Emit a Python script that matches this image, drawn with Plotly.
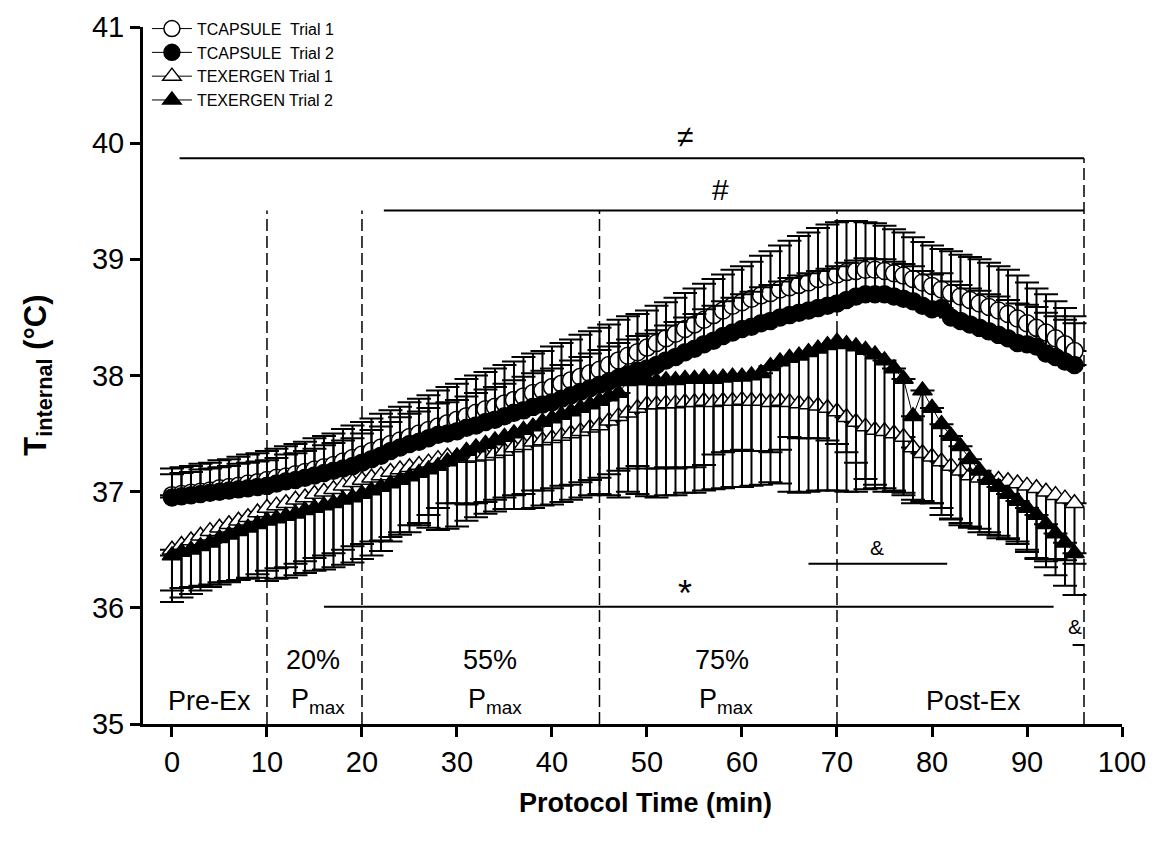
import plotly.graph_objects as go

# ---------------- data ----------------
TIME_MIN = list(range(0, 96))

CAP_T1 = [36.97, 36.98, 36.99, 37.00, 37.01, 37.03, 37.04, 37.05, 37.07, 37.08,
          37.10, 37.12, 37.13, 37.15, 37.17, 37.19, 37.21, 37.23, 37.26, 37.29,
          37.32, 37.35, 37.38, 37.41, 37.44, 37.47, 37.50, 37.53, 37.56, 37.59,
          37.62, 37.65, 37.68, 37.71, 37.73, 37.76, 37.79, 37.82, 37.85, 37.87,
          37.90, 37.93, 37.96, 37.99, 38.02, 38.05, 38.09, 38.13, 38.17, 38.20,
          38.24, 38.28, 38.32, 38.36, 38.40, 38.44, 38.48, 38.52, 38.56, 38.60,
          38.63, 38.66, 38.69, 38.71, 38.74, 38.76, 38.78, 38.80, 38.83, 38.85,
          38.87, 38.89, 38.90, 38.91, 38.91, 38.90, 38.88, 38.86, 38.83, 38.80,
          38.77, 38.74, 38.71, 38.68, 38.65, 38.62, 38.59, 38.56, 38.53, 38.49,
          38.45, 38.41, 38.37, 38.32, 38.27, 38.21]
CAP_T1_SD = [0.23, 0.23, 0.23, 0.24, 0.24, 0.24, 0.24, 0.25, 0.25, 0.25,
             0.25, 0.25, 0.26, 0.26, 0.26, 0.27, 0.27, 0.27, 0.28, 0.28,
             0.28, 0.28, 0.29, 0.29, 0.29, 0.30, 0.30, 0.30, 0.31, 0.31,
             0.31, 0.32, 0.32, 0.32, 0.33, 0.33, 0.33, 0.34, 0.34, 0.34,
             0.35, 0.35, 0.35, 0.36, 0.36, 0.36, 0.35, 0.35, 0.34, 0.33,
             0.32, 0.32, 0.31, 0.31, 0.31, 0.31, 0.31, 0.31, 0.31, 0.31,
             0.31, 0.32, 0.34, 0.36, 0.38, 0.40, 0.42, 0.43, 0.44, 0.45,
             0.45, 0.44, 0.43, 0.41, 0.40, 0.39, 0.38, 0.37, 0.36, 0.35,
             0.35, 0.35, 0.36, 0.36, 0.37, 0.38, 0.38, 0.38, 0.38, 0.37,
             0.35, 0.34, 0.33, 0.32, 0.31, 0.30]

CAP_T2 = [36.95, 36.96, 36.97, 36.98, 36.99, 37.00, 37.01, 37.02, 37.03, 37.04,
          37.05, 37.07, 37.09, 37.10, 37.12, 37.14, 37.16, 37.18, 37.20, 37.22,
          37.25, 37.28, 37.31, 37.35, 37.38, 37.41, 37.43, 37.46, 37.49, 37.50,
          37.52, 37.55, 37.57, 37.60, 37.62, 37.65, 37.68, 37.70, 37.73, 37.75,
          37.77, 37.80, 37.83, 37.86, 37.89, 37.92, 37.95, 37.98, 38.01, 38.04,
          38.06, 38.09, 38.13, 38.16, 38.20, 38.23, 38.27, 38.30, 38.34, 38.37,
          38.40, 38.42, 38.45, 38.47, 38.50, 38.52, 38.54, 38.56, 38.58, 38.60,
          38.62, 38.65, 38.68, 38.70, 38.70, 38.70, 38.68, 38.66, 38.64, 38.60,
          38.57, 38.58, 38.50, 38.47, 38.44, 38.41, 38.38, 38.35, 38.32, 38.28,
          38.27, 38.25, 38.19, 38.16, 38.12, 38.09]
CAP_T2_SD = [0.20, 0.20, 0.20, 0.21, 0.21, 0.21, 0.21, 0.22, 0.22, 0.22,
             0.22, 0.22, 0.23, 0.23, 0.23, 0.23, 0.24, 0.24, 0.24, 0.24,
             0.25, 0.25, 0.25, 0.25, 0.26, 0.26, 0.26, 0.26, 0.27, 0.27,
             0.27, 0.27, 0.28, 0.28, 0.28, 0.28, 0.28, 0.29, 0.29, 0.29,
             0.29, 0.29, 0.30, 0.30, 0.30, 0.30, 0.30, 0.30, 0.30, 0.30,
             0.30, 0.30, 0.30, 0.30, 0.30, 0.30, 0.30, 0.30, 0.30, 0.30,
             0.30, 0.30, 0.31, 0.31, 0.31, 0.32, 0.32, 0.32, 0.32, 0.32,
             0.32, 0.32, 0.31, 0.31, 0.30, 0.30, 0.30, 0.30, 0.30, 0.30,
             0.30, 0.30, 0.31, 0.31, 0.31, 0.32, 0.32, 0.33, 0.33, 0.34,
             0.34, 0.34, 0.35, 0.35, 0.36, 0.36]

EXE_T1 = [36.50, 36.54, 36.58, 36.62, 36.66, 36.69, 36.72, 36.75, 36.78, 36.82,
          36.86, 36.88, 36.90, 36.93, 36.95, 36.98, 37.00, 37.02, 37.05, 37.08,
          37.10, 37.12, 37.14, 37.17, 37.19, 37.21, 37.23, 37.25, 37.28, 37.30,
          37.30, 37.29, 37.30, 37.31, 37.33, 37.35, 37.38, 37.40, 37.43, 37.44,
          37.46, 37.48, 37.50, 37.52, 37.55, 37.57, 37.61, 37.65, 37.68, 37.72,
          37.75, 37.75, 37.76, 37.76, 37.77, 37.77, 37.78, 37.77, 37.78, 37.78,
          37.79, 37.78, 37.78, 37.77, 37.78, 37.77, 37.76, 37.75, 37.74, 37.72,
          37.69, 37.64, 37.60, 37.56, 37.53, 37.52, 37.50, 37.47, 37.38, 37.33,
          37.30, 37.26, 37.22, 37.18, 37.14, 37.12, 37.11, 37.10, 37.09, 37.07,
          37.05, 37.03, 37.00, 36.97, 36.94, 36.90]
EXE_T1_SD = [0.45, 0.45, 0.46, 0.47, 0.48, 0.49, 0.50, 0.51, 0.52, 0.53,
             0.54, 0.54, 0.55, 0.55, 0.55, 0.55, 0.55, 0.55, 0.55, 0.55,
             0.55, 0.55, 0.56, 0.56, 0.56, 0.56, 0.50, 0.45, 0.42, 0.40,
             0.40, 0.40, 0.40, 0.40, 0.40, 0.40, 0.41, 0.42, 0.42, 0.43,
             0.43, 0.43, 0.44, 0.44, 0.45, 0.45, 0.46, 0.47, 0.48, 0.50,
             0.55, 0.55, 0.55, 0.56, 0.56, 0.56, 0.55, 0.45, 0.44, 0.43,
             0.43, 0.43, 0.43, 0.43, 0.42, 0.30, 0.30, 0.29, 0.28, 0.28,
             0.28, 0.30, 0.35, 0.45, 0.50, 0.52, 0.50, 0.50, 0.45, 0.42,
             0.40, 0.40, 0.45, 0.45, 0.45, 0.47, 0.48, 0.50, 0.50, 0.50,
             0.55, 0.60, 0.60, 0.55, 0.53, 0.52]

EXE_T2 = [36.45, 36.48, 36.50, 36.53, 36.56, 36.60, 36.63, 36.66, 36.69, 36.72,
          36.75, 36.77, 36.79, 36.81, 36.84, 36.86, 36.88, 36.90, 36.93, 36.95,
          36.98, 37.01, 37.04, 37.07, 37.10, 37.13, 37.16, 37.19, 37.22, 37.26,
          37.30, 37.35, 37.38, 37.41, 37.44, 37.47, 37.50, 37.53, 37.56, 37.60,
          37.63, 37.66, 37.69, 37.72, 37.75, 37.78, 37.82, 37.85, 37.95, 37.96,
          37.96, 37.95, 37.96, 37.96, 37.97, 37.97, 37.98, 37.97, 37.98, 37.99,
          37.99, 38.00, 38.02, 38.08, 38.12, 38.15, 38.17, 38.20, 38.23, 38.26,
          38.29, 38.27, 38.25, 38.22, 38.18, 38.13, 38.06, 37.97, 37.65, 37.87,
          37.72, 37.58, 37.48, 37.39, 37.28, 37.18, 37.10, 37.04, 36.98, 36.92,
          36.86, 36.80, 36.72, 36.64, 36.56, 36.47]
EXE_T2_SD = [0.30, 0.31, 0.32, 0.34, 0.36, 0.38, 0.40, 0.42, 0.44, 0.46,
             0.52, 0.52, 0.53, 0.53, 0.54, 0.54, 0.55, 0.55, 0.56, 0.56,
             0.56, 0.56, 0.55, 0.50, 0.45, 0.42, 0.45, 0.50, 0.55, 0.58,
             0.60, 0.60, 0.60, 0.60, 0.61, 0.62, 0.65, 0.68, 0.70, 0.72,
             0.74, 0.75, 0.76, 0.77, 0.78, 0.80, 0.85, 0.90, 0.95, 0.98,
             1.00, 1.00, 0.99, 0.99, 0.98, 0.98, 0.97, 0.95, 0.95, 0.95,
             0.95, 0.95, 0.96, 1.00, 1.05, 1.15, 1.18, 1.20, 1.22, 1.25,
             1.28, 1.27, 1.25, 1.20, 1.12, 1.10, 1.05, 0.98, 0.75, 0.95,
             0.82, 0.78, 0.72, 0.68, 0.58, 0.50, 0.45, 0.42, 0.38, 0.37,
             0.38, 0.38, 0.37, 0.36, 0.37, 0.36]

SERIES_NAMES = ["TCAPSULE  Trial 1", "TCAPSULE  Trial 2", "TEXERGEN Trial 1", "TEXERGEN Trial 2"]
PHASE_BOUNDARIES = [10, 20, 45, 70, 96]
X_TICKS = [0, 10, 20, 30, 40, 50, 60, 70, 80, 90, 100]
Y_TICKS = [35, 36, 37, 38, 39, 40, 41]

# ---------------- figure ----------------
FONT = "Liberation Sans, Arial, sans-serif"
zeros = [0] * len(TIME_MIN)

fig = go.Figure()

def add_series(name, y, sd, symbol, fill, up, size):
    if up:
        err = dict(type="data", symmetric=False, array=sd, arrayminus=zeros,
                   color="black", thickness=2, width=12)
    else:
        err = dict(type="data", symmetric=False, array=zeros, arrayminus=sd,
                   color="black", thickness=2, width=12)
    fig.add_trace(go.Scatter(
        x=TIME_MIN, y=y, name=name, mode="lines+markers",
        line=dict(color="black", width=1),
        marker=dict(symbol=symbol, size=size, color=fill,
                    line=dict(color="black", width=1.5)),
        error_y=err,
    ))

add_series(SERIES_NAMES[0], CAP_T1, CAP_T1_SD, "circle", "white", True, 17)
add_series(SERIES_NAMES[1], CAP_T2, CAP_T2_SD, "circle", "black", True, 17)
add_series(SERIES_NAMES[2], EXE_T1, EXE_T1_SD, "triangle-up", "white", False, 17)
add_series(SERIES_NAMES[3], EXE_T2, EXE_T2_SD, "triangle-up", "black", False, 17)

# phase boundary dashed lines
for b in PHASE_BOUNDARIES:
    top = 39.87 if b == 96 else 39.42
    fig.add_shape(type="line", xref="x", yref="y", x0=b, x1=b, y0=35, y1=top,
                  line=dict(color="black", width=1.5, dash="12px,5px"), layer="below")

# significance bars
bars = [(0.8, 96, 39.87), (22.3, 96, 39.42), (16, 92.8, 36.01), (67, 81.6, 36.38), (94.8, 96, 35.68)]
for x0, x1, yv in bars:
    fig.add_shape(type="line", xref="x", yref="y", x0=x0, x1=x1, y0=yv, y1=yv,
                  line=dict(color="black", width=2))

def note(x, y, text, size):
    fig.add_annotation(x=x, y=y, xref="x", yref="y", text=text, showarrow=False,
                       font=dict(family=FONT, size=size, color="black"))

note(54, 40.06, "≠", 30)
note(57.7, 39.6, "#", 30)
note(54, 36.12, "*", 36)
note(74.2, 36.52, "&", 21)
note(95, 35.84, "&", 21)

# phase labels
note(4, 35.2, "Pre-Ex", 27)
note(14.8, 35.55, "20%", 27)
note(15.4, 35.2, "P<sub>max</sub>", 27)
note(33.5, 35.55, "55%", 27)
note(34, 35.2, "P<sub>max</sub>", 27)
note(57.9, 35.55, "75%", 27)
note(58.3, 35.2, "P<sub>max</sub>", 27)
note(84.4, 35.2, "Post-Ex", 27)

# axis titles
fig.add_annotation(x=-0.108, y=0.5, xref="paper", yref="paper", textangle=-90,
                   xanchor="center", yanchor="middle",
                   text="<b>T<sub>internal</sub> (°C)</b>", showarrow=False,
                   font=dict(family=FONT, size=31, color="black"))
fig.add_annotation(x=0.513, y=-0.113, xref="paper", yref="paper",
                   xanchor="center", yanchor="middle",
                   text="<b>Protocol Time (min)</b>", showarrow=False,
                   font=dict(family=FONT, size=27, color="black"))

axis_common = dict(showline=True, linecolor="black", linewidth=3, ticks="outside",
                   ticklen=10, tickwidth=3, tickcolor="black", showgrid=False,
                   zeroline=False, tickfont=dict(family=FONT, size=29, color="black"))

fig.update_layout(
    width=1166, height=858,
    margin=dict(l=143, r=44, t=22, b=134),
    paper_bgcolor="white", plot_bgcolor="white",
    xaxis=dict(range=[-3.05, 100], tickvals=X_TICKS, **axis_common),
    yaxis=dict(range=[35, 41], tickvals=Y_TICKS, **axis_common),
    legend=dict(x=0.004, y=1.022, xanchor="left", yanchor="top",
                bgcolor="rgba(0,0,0,0)", font=dict(family=FONT, size=16, color="black"),
                itemwidth=40, tracegroupgap=0),
    showlegend=True,
)

fig.write_html("out.html")
